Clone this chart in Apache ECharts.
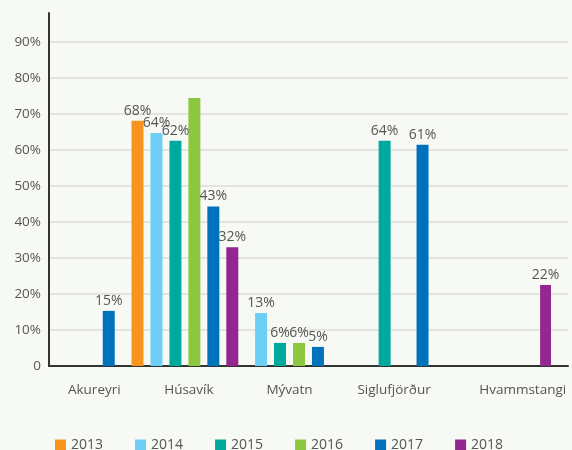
<!DOCTYPE html>
<html><head><meta charset="utf-8">
<script src="https://cdn.jsdelivr.net/npm/echarts@6/dist/echarts.min.js"></script>
<style>html,body{margin:0;padding:0;background:#f7f9f4;}#c{width:572px;height:450px;}</style>
</head><body><div id="c"></div>
<script>
const categories = ['Akureyri', 'Húsavík', 'Mývatn', 'Siglufjörður', 'Hvammstangi'];
const years = ['2013', '2014', '2015', '2016', '2017', '2018'];
const v2013 = [null, 68.1, null, null, null];
const v2014 = [null, 64.7, 14.7, null, null];
const v2015 = [null, 62.5, 6.4, 62.5, null];
const v2016 = [null, 74.4, 6.4, null, null];
const v2017 = [15.3, 44.3, 5.3, 61.4, null];
const v2018 = [null, 33.0, null, null, 22.5];
const t2013 = ['', '68%', '', '', ''];
const t2014 = ['', '64%', '13%', '', ''];
const t2015 = ['', '62%', '6%', '64%', ''];
const t2016 = ['', '', '6%', '', ''];
const t2017 = ['15%', '43%', '5%', '61%', ''];
const t2018 = ['', '32%', '', '', '22%'];
const yTicks = [0, 10, 20, 30, 40, 50, 60, 70, 80, 90];

const values = [v2013, v2014, v2015, v2016, v2017, v2018];
const texts = [t2013, t2014, t2015, t2016, t2017, t2018];
const colors = ['#f7941d', '#6dcff6', '#00a99d', '#8dc63f', '#0072bc', '#92278f'];
const font = 'Open Sans';
// small per-label nudges so the category names sit where the reference prints them
const labelPad = [[0, 0, 0, 28], [0, 0, 0, 8], [0, 0, 0, 0], [0, 0, 0, 0], [0, 0, 0, 48]];

const chart = echarts.init(document.getElementById('c'));
chart.setOption({
  backgroundColor: '#f7f9f4',
  textStyle: { fontFamily: font },
  grid: [
    { left: 49, right: 4, top: 13, bottom: 84 },
    { left: 28, right: 21, top: 13, bottom: 84 }
  ],
  legend: {
    top: 433, left: 50, icon: 'rect', itemWidth: 11, itemHeight: 11, itemGap: 32,
    textStyle: { color: '#555', fontSize: 14, fontFamily: font },
    data: years
  },
  xAxis: [
    { gridIndex: 0, type: 'category', data: categories,
      axisLine: { lineStyle: { color: '#333', width: 2 } }, axisTick: { show: false }, axisLabel: { show: false } },
    { gridIndex: 1, type: 'category',
      data: categories.map((c, i) => ({ value: c, textStyle: { padding: labelPad[i] } })),
      axisLine: { show: false }, axisTick: { show: false },
      axisLabel: { interval: 0, color: '#555', fontSize: 13.5, margin: 17, fontFamily: font } }
  ],
  yAxis: [
    { gridIndex: 0, type: 'value', min: yTicks[0], max: 98, interval: 10,
      axisLine: { show: true, lineStyle: { color: '#333', width: 2 } }, axisTick: { show: false },
      axisLabel: { color: '#555', fontSize: 13.5, margin: 8, showMaxLabel: false, fontFamily: font,
        formatter: v => yTicks.indexOf(v) < 0 ? '' : (v === 0 ? '0' : v + '%') },
      splitLine: { show: true, showMaxLine: false, lineStyle: { color: '#dcdcdc', width: 1.5 } } },
    { gridIndex: 1, type: 'value', min: 0, max: 98, show: false, splitLine: { show: false } }
  ],
  series: years.map((y, k) => ({
    name: y, type: 'bar', xAxisIndex: 1, yAxisIndex: 1,
    barWidth: 12, barGap: '58%',
    itemStyle: { color: colors[k] },
    data: values[k],
    label: { show: true, position: 'top', distance: 3, color: '#555', fontSize: 14, fontFamily: font,
      formatter: p => texts[k][p.dataIndex] }
  }))
});
</script></body></html>
